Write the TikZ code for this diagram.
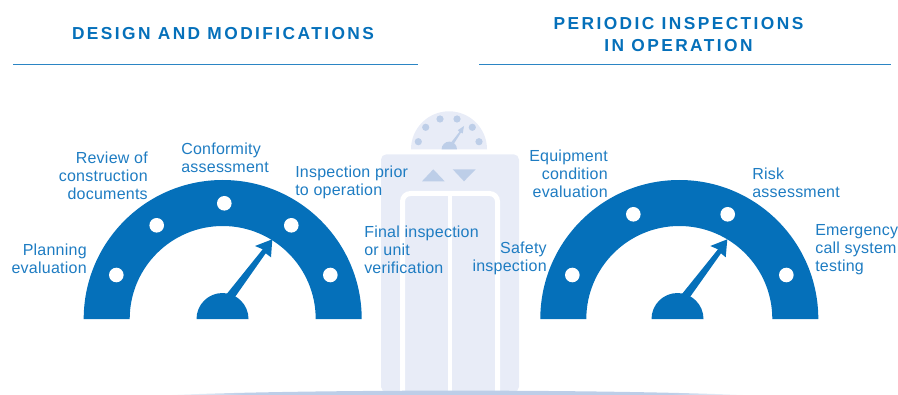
\documentclass[tikz,border=0pt]{standalone}
\usepackage{fontspec}
\setmainfont{Liberation Sans}
\newfontfamily\titlefont[LetterSpace=14]{Liberation Sans}
\newfontfamily\labelfont[LetterSpace=1.5]{Liberation Sans}
\usetikzlibrary{shadings}
\definecolor{gblue}{HTML}{0570BA}
\definecolor{tblue}{HTML}{1E7CC2}
\definecolor{pale}{HTML}{E8ECF7}
\definecolor{mid}{HTML}{BDCEE8}
\pgfdeclarehorizontalshading{groundfade}{100bp}{
  color(0bp)=(white); color(25bp)=(white); color(32bp)=(mid); color(68bp)=(mid); color(75bp)=(white); color(100bp)=(white)}
\tikzset{
  lbl/.style={text=tblue,font=\labelfont\fontsize{12}{13.5}\selectfont,inner sep=0pt},
  lleft/.style={lbl,align=left,anchor=west},
  lright/.style={lbl,align=right,anchor=east},
  ttl/.style={text=gblue,font=\titlefont\bfseries\fontsize{13}{16.8}\selectfont,inner sep=0pt,align=center,anchor=center},
  rule/.style={draw=gblue!85,line width=0.6pt},
  dotw/.style={fill=white},
  gauge/.style={fill=gblue},
}
\begin{document}
\begin{tikzpicture}[x=0.75pt,y=-0.75pt]
\useasboundingbox (0,0) rectangle (898,395);
% elevator
\fill[pale,rounded corners=4pt] (381,392) -- (381,154.3) -- (519,154.3) -- (519,392) -- cycle;
\draw[white,line width=3.75pt,rounded corners=6pt] (402.5,392) -- (402.5,193.5) -- (497.5,193.5) -- (497.5,392);
\fill[white] (448,192) rectangle (452,392);
\fill[mid] (422,181.3) -- (444.7,181.3) -- (433.3,169.3) -- cycle;
\fill[mid] (452.7,169.3) -- (475.7,169.3) -- (464,181.3) -- cycle;
% ground
\shade[shading=groundfade]
  (160,395.5) .. controls (300,389) and (610,389) .. (755,395.5) -- cycle;
% small gauge
\fill[pale] (411,149.3) arc[start angle=180,end angle=360,radius=38] -- cycle;
\foreach \p in {(418.3,141.7),(425.7,127.3),(440,119),(457,119),(472.3,127.3),(479,141.7)}
  \fill[mid] \p circle[radius=3.6];
\fill[mid] (441.6,149.3) arc[start angle=180,end angle=360,radius=7.7] -- cycle;
\fill[mid] (451.5,142) -- (459.5,131.8) -- (457.8,130.2) -- (464,126) -- (462.7,133.5) -- (461,132.5) -- (454,143.5) -- cycle;
% left gauge
\fill[gauge] (83.7,319) arc[start angle=180,end angle=360,radius=139] -- (315.7,319)
  arc[start angle=360,end angle=180,radius=93] -- cycle;
\foreach \p in {(116.3,275),(156.7,225.3),(224.3,203.3),(291.3,225.3),(330.3,275)}
  \fill[dotw] \p circle[radius=7.3];
\fill[gauge] (196.5,319) arc[start angle=180,end angle=360,radius=26] -- cycle;
\fill[gauge] (226.7,294) -- (262.7,249.3) -- (255,246) -- (272.3,239.3) -- (271,257.3) -- (265.7,253.3) -- (235,297) -- cycle;
% right gauge
\fill[gauge] (540.3,319) arc[start angle=180,end angle=360,radius=139] -- (772.3,319)
  arc[start angle=360,end angle=180,radius=93] -- cycle;
\foreach \p in {(572.3,275),(633.3,214.3),(727.7,214.3),(786.3,275)}
  \fill[dotw] \p circle[radius=7.3];
\fill[gauge] (651.5,319) arc[start angle=180,end angle=360,radius=26] -- cycle;
\fill[gauge] (682,294) -- (718,249.3) -- (710.3,246) -- (727.3,239.3) -- (725.7,257.3) -- (721,253.3) -- (690,297) -- cycle;
% titles
\node[ttl] (t1) at (223,33.5) {DESIGN AND MODIFICATIONS};
\node[ttl] (t2) at (678.5,34.5) {PERIODIC INSPECTIONS\\IN OPERATION};
\coordinate (r1a) at (13,64); \coordinate (r1b) at (418,64);
\coordinate (r2a) at (479,64); \coordinate (r2b) at (891,64);
\draw[rule] (r1a) -- (r1b);
\draw[rule] (r2a) -- (r2b);
% labels
\node[lright] (a1) at (87,258.5) {Planning\\evaluation};
\node[lright] (a2) at (148,176) {Review of\\construction\\documents};
\node[lleft] (a3) at (181,157.5) {Conformity\\assessment};
\node[lleft] (a4) at (295,182.5) {Inspection prior\\to operation};
\node[lleft] (a5) at (364,249.5) {Final inspection\\or unit\\verification};
\node[lright] (b1) at (547,258.5) {Safety\\inspection};
\node[lright] (b2) at (608,173.5) {Equipment\\condition\\evaluation};
\node[lleft] (b3) at (752,182.5) {Risk\\assessment};
\node[lleft] (b4) at (815,249.5) {Emergency\\call system\\testing};
\end{tikzpicture}
\end{document}
